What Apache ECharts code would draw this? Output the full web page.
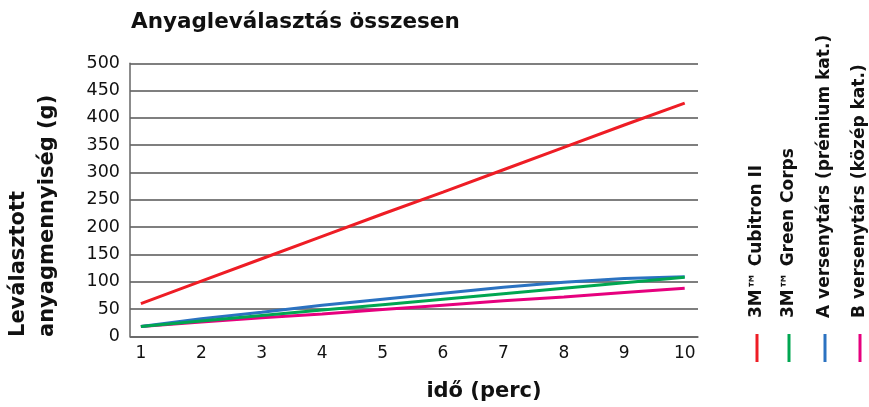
<!DOCTYPE html>
<html>
<head>
<meta charset="utf-8">
<script src="https://cdn.jsdelivr.net/npm/echarts@6/dist/echarts.min.js"></script>
<style>html,body{margin:0;padding:0;background:#fff}#c{width:869px;height:407px}</style>
</head>
<body>
<div id="c"></div>
<script>
const minutes = [1, 2, 3, 4, 5, 6, 7, 8, 9, 10];
const seriesNames = ['3M™ Cubitron II', '3M™ Green Corps', 'A versenytárs (prémium kat.)', 'B versenytárs (közép kat.)'];
const cubitron = [60, 101, 142, 183, 224, 264, 305, 346, 387, 427];
const greenCorps = [18, 28, 38, 48, 58, 68, 78, 88, 98, 108];
const competitorA = [18, 32, 44, 57, 68, 79, 90, 99, 106, 109];
const competitorB = [18, 26, 34, 41, 49, 57, 65, 72, 80, 88];
const yTicks = [0, 50, 100, 150, 200, 250, 300, 350, 400, 450, 500];
const colors = ['#ee1d25', '#00a651', '#2b72c1', '#e6007e'];
const allValues = [cubitron, greenCorps, competitorA, competitorB];

const chart = echarts.init(document.getElementById('c'), null, {renderer: 'canvas'});
const labelFont = 'DejaVu Sans';
const boldFont = 'DejaVu Sans';

const legendX = [757, 789, 825, 860];
const graphic = [];
seriesNames.forEach((n, i) => {
  graphic.push({
    type: 'line', shape: {x1: legendX[i], y1: 334, x2: legendX[i], y2: 362},
    style: {stroke: colors[i], lineWidth: 3}
  });
  graphic.push({
    type: 'text', x: legendX[i], y: 318, rotation: Math.PI / 2,
    style: {text: n, fill: '#111', font: 'bold 17px ' + boldFont, align: 'left', verticalAlign: 'middle'}
  });
});
graphic.push({
  type: 'text', x: 19, y: 337, rotation: Math.PI / 2,
  style: {text: 'Leválasztott', fill: '#111', font: 'bold 21px ' + boldFont, align: 'left', verticalAlign: 'middle'}
});
graphic.push({
  type: 'text', x: 48, y: 337, rotation: Math.PI / 2,
  style: {text: 'anyagmennyiség (g)', fill: '#111', font: 'bold 21px ' + boldFont, align: 'left', verticalAlign: 'middle'}
});
graphic.push({
  type: 'text', x: 484, y: 392,
  style: {text: 'idő (perc)', fill: '#111', font: 'bold 21px ' + boldFont, align: 'center', verticalAlign: 'middle'}
});

chart.setOption({
  animation: false,
  title: {
    text: 'Anyagleválasztás összesen', left: 131, top: 11, padding: 0,
    textStyle: {fontFamily: boldFont, fontWeight: 'bold', fontSize: 21.5, color: '#111'}
  },
  grid: {left: 130, right: 171, top: 63.3, bottom: 70.7, containLabel: false},
  xAxis: {
    type: 'value', min: 0.82, max: 10.22,
    axisLine: {show: true, lineStyle: {color: '#666', width: 1.5}},
    axisTick: {show: false},
    splitLine: {show: false},
    axisLabel: {customValues: minutes, fontFamily: labelFont, fontSize: 17, color: '#111', margin: 9}
  },
  yAxis: {
    type: 'value', min: yTicks[0], max: yTicks[yTicks.length - 1], interval: 50,
    axisLine: {show: true, lineStyle: {color: '#666', width: 1.5}},
    axisTick: {show: false},
    splitLine: {show: true, lineStyle: {color: '#555', width: 1.5}},
    axisLabel: {fontFamily: labelFont, fontSize: 17.5, color: '#111', margin: 10}
  },
  series: seriesNames.map((n, i) => ({
    name: n, type: 'line', showSymbol: false, symbol: 'none',
    data: minutes.map((m, j) => [m, allValues[i][j]]),
    lineStyle: {color: colors[i], width: 3},
    z: 10 - i
  })),
  graphic: graphic
});
</script>
</body>
</html>
